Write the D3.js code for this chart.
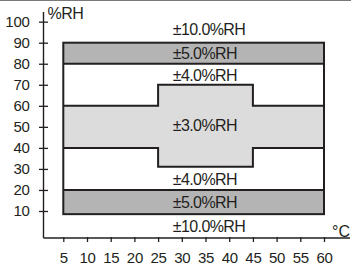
<!DOCTYPE html>
<html><head><meta charset="utf-8">
<script src="https://cdn.jsdelivr.net/npm/d3@7"></script>
<style>
html,body{margin:0;padding:0;background:#fff;}
svg{display:block;font-family:"Liberation Sans",Arial,sans-serif;}
</style></head>
<body><svg id="c" width="351" height="266"></svg>
<script>
// ---- data ----
const xTicks = [5,10,15,20,25,30,35,40,45,50,55,60];
const yTicks = [10,20,30,40,50,60,70,80,90,100];
const tempRange = [5,60];
// outer accuracy box (±5% dark bands inside)
const outerTop = 90, outerBottom = 8.5;
const darkUpper = [90,80];
const darkLower = [20,8.5];
// ±3% region (step shape)
const stepTemps = [5,25,45,60];
const stepUpper = [60,70,60,60];
const stepLower = [40,31,40,40];
// band labels
const bandLabels = ["±10.0%RH","±5.0%RH","±4.0%RH","±3.0%RH","±4.0%RH","±5.0%RH","±10.0%RH"];
const bandLabelRH = [96.4,85,74.4,50.6,25.1,14.3,2.6];
const labelTemp = 28.1;

// ---- chart ----
const svg = d3.select("#c");
const x = d3.scaleLinear().domain([5,60]).range([63.3,324]);
const y = d3.scaleLinear().domain([10,90]).range([211,42.7]);
const ink = "#231f20";
const axisX = 43.5, axisY = 238;

// top border artifact
svg.append("line").attr("x1",0).attr("x2",351).attr("y1",0.5).attr("y2",0.5)
  .attr("stroke","#7a7a7a").attr("stroke-width",1.2);

// dark bands
[darkUpper, darkLower].forEach(b=>{
  svg.append("rect").attr("x",x(tempRange[0])).attr("width",x(tempRange[1])-x(tempRange[0]))
    .attr("y",y(b[0])).attr("height",y(b[1])-y(b[0])).attr("fill","#b4b4b4");
});
// light step band
const pts = stepTemps.map((t,i)=>({t,u:stepUpper[i],l:stepLower[i]}));
svg.append("path").datum(pts)
  .attr("d", d3.area().curve(d3.curveStepAfter).x(d=>x(d.t)).y0(d=>y(d.l)).y1(d=>y(d.u)))
  .attr("fill","#dcdcdc");
// step outlines
["u","l"].forEach(k=>{
  svg.append("path").datum(pts)
    .attr("d", d3.line().curve(d3.curveStepAfter).x(d=>x(d.t)).y(d=>y(d[k])))
    .attr("fill","none").attr("stroke",ink).attr("stroke-width",2);
});
// inner lines at 80 and 20
[darkUpper[1], darkLower[0]].forEach(v=>{
  svg.append("line").attr("x1",x(tempRange[0])).attr("x2",x(tempRange[1]))
    .attr("y1",y(v)).attr("y2",y(v)).attr("stroke",ink).attr("stroke-width",2);
});
// outer box
svg.append("rect").attr("x",x(tempRange[0])).attr("width",x(tempRange[1])-x(tempRange[0]))
  .attr("y",y(outerTop)).attr("height",y(outerBottom)-y(outerTop))
  .attr("fill","none").attr("stroke",ink).attr("stroke-width",2);

// axes lines
svg.append("line").attr("x1",axisX).attr("x2",axisX).attr("y1",12).attr("y2",axisY)
  .attr("stroke",ink).attr("stroke-width",1.4);
svg.append("line").attr("x1",axisX).attr("x2",350).attr("y1",axisY).attr("y2",axisY)
  .attr("stroke",ink).attr("stroke-width",1.4);

// y axis ticks
const ya = svg.append("g").attr("transform",`translate(${axisX},0)`)
  .call(d3.axisLeft(y).tickValues(yTicks).tickSize(4.5).tickPadding(9.5));
ya.select(".domain").remove();
ya.selectAll(".tick line").attr("x1",4.5).attr("stroke",ink).attr("stroke-width",1.3);
ya.selectAll(".tick text").attr("font-size","15px").attr("letter-spacing","-0.3px").attr("fill",ink)
  .attr("font-family","Liberation Sans, Arial, sans-serif").attr("dy","0.3em");

// x axis ticks
const xa = svg.append("g").attr("transform",`translate(0,${axisY})`)
  .call(d3.axisBottom(x).tickValues(xTicks).tickSize(4).tickPadding(13));
xa.select(".domain").remove();
xa.selectAll(".tick line").attr("y1",-1).attr("stroke",ink).attr("stroke-width",1.3);
xa.selectAll(".tick text").attr("font-size","15px").attr("letter-spacing","-0.3px").attr("fill",ink)
  .attr("font-family","Liberation Sans, Arial, sans-serif").attr("dy","0.5em");

// axis titles
svg.append("text").attr("x",47.5).attr("y",18.5).attr("font-size","16px").attr("letter-spacing","-0.5px").attr("fill",ink).text("%RH");
svg.append("text").attr("x",332).attr("y",236.5).attr("font-size","16px").attr("fill",ink).text("°C");

// band labels
svg.append("g").selectAll("text").data(bandLabels).join("text")
  .attr("x",x(labelTemp)).attr("y",(d,i)=>y(bandLabelRH[i]))
  .attr("dy","0.36em").attr("font-size","16px").attr("letter-spacing","-0.6px").attr("fill",ink).text(d=>d);
</script></body></html>
